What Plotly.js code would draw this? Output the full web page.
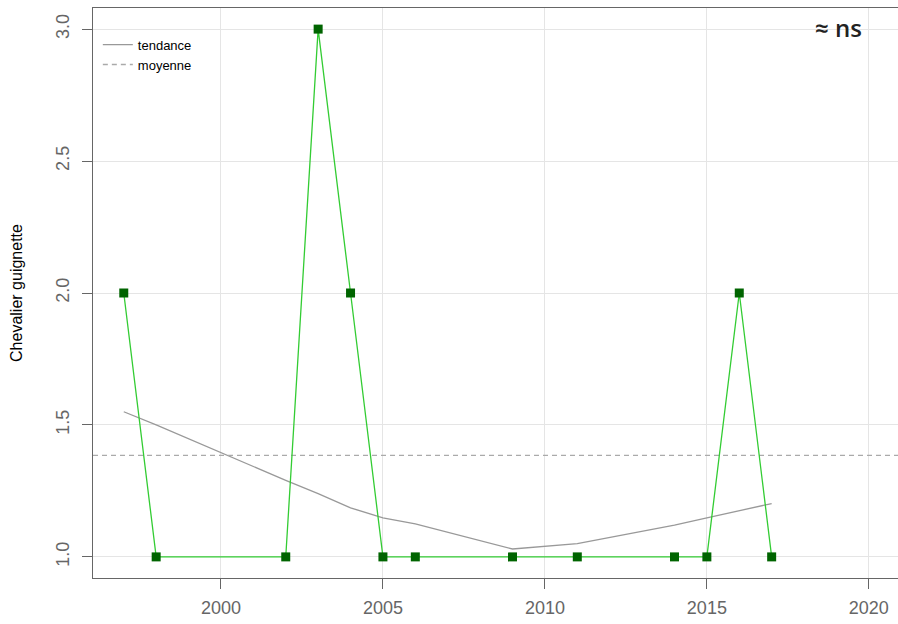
<!DOCTYPE html>
<html>
<head>
<meta charset="utf-8">
<script src="https://cdn.plot.ly/plotly-3.0.1.min.js"></script>
<style>html,body{margin:0;padding:0;background:#fff;}#chart{width:898px;height:624px;}</style>
</head>
<body>
<div id="chart"></div>
<script>
var years = [1997, 1998, 2002, 2003, 2004, 2005, 2006, 2009, 2011, 2014, 2015, 2016, 2017];
var counts = [2, 1, 1, 3, 2, 1, 1, 1, 1, 1, 1, 2, 1];
var trend = [1.55, 1.50, 1.29, 1.24, 1.186, 1.148, 1.125, 1.03, 1.05, 1.12, 1.148, 1.175, 1.202];
var meanValue = 1.385;
var xTicks = [2000, 2005, 2010, 2015, 2020];
var yTicks = [1.0, 1.5, 2.0, 2.5, 3.0];
var xRange = [1996.05, 2020.9];

var traces = [
  {x: years, y: trend, mode: 'lines', name: 'tendance',
   line: {color: '#999999', width: 1.3}, showlegend: true},
  {x: xRange, y: [meanValue, meanValue], mode: 'lines', name: 'moyenne',
   line: {color: '#aaaaaa', width: 1.3, dash: '5px,4px'}, showlegend: true},
  {x: years, y: counts, mode: 'lines+markers', name: 'data',
   line: {color: '#33cc33', width: 1.3},
   marker: {symbol: 'square', size: 9, color: '#006400'}, showlegend: false}
];

var layout = {
  width: 898, height: 624,
  margin: {l: 93, r: 0, t: 8, b: 46},
  paper_bgcolor: '#ffffff', plot_bgcolor: '#ffffff',
  font: {family: 'Liberation Sans, Arial, sans-serif', color: '#666666'},
  xaxis: {
    range: xRange, tickvals: xTicks, ticktext: xTicks.map(String),
    showgrid: true, gridcolor: '#e5e5e5', gridwidth: 1, zeroline: false,
    showline: true, linecolor: '#666666', linewidth: 1, mirror: true,
    ticks: 'outside', ticklen: 10, tickcolor: '#666666', ticklabelstandoff: 3,
    tickfont: {size: 18, color: '#666666'}
  },
  yaxis: {
    range: [0.92, 3.08], tickvals: yTicks, ticktext: yTicks.map(function(v){return v.toFixed(1);}),
    showgrid: true, gridcolor: '#e5e5e5', gridwidth: 1, zeroline: false,
    showline: true, linecolor: '#666666', linewidth: 1, mirror: false,
    ticks: 'outside', ticklen: 10, tickcolor: '#666666', tickangle: -90, ticklabelstandoff: 6,
    tickfont: {size: 18, color: '#666666'},
    title: {text: 'Chevalier guignette', font: {size: 16, color: '#000000'}, standoff: 26}
  },
  legend: {x: 0.006, y: 0.962, xanchor: 'left', yanchor: 'top',
    bgcolor: 'rgba(0,0,0,0)', font: {size: 13, color: '#000000'},
    tracegroupgap: 0, itemwidth: 30},
  annotations: [
    {text: '≈ ns', xref: 'paper', yref: 'paper', x: 0.9255, y: 0.965,
     xanchor: 'center', yanchor: 'middle', showarrow: false,
     font: {size: 24, color: '#222222', family: 'Open Sans, sans-serif', weight: 600}}
  ]
};

Plotly.newPlot('chart', traces, layout, {displayModeBar: false, staticPlot: true});
</script>
</body>
</html>
